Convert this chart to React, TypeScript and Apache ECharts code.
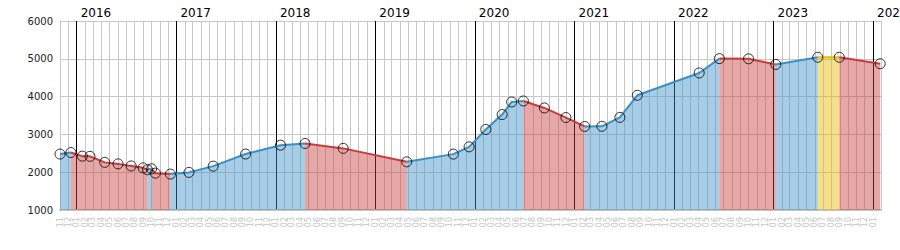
import React, { useEffect, useRef } from "react";
import * as echarts from "echarts";

const pointDates: string[] = [
  "2015-11-01", "2015-12-11", "2016-01-22", "2016-02-19", "2016-04-13",
  "2016-06-01", "2016-07-19", "2016-09-01", "2016-09-17", "2016-10-02",
  "2016-10-16", "2016-12-10", "2017-02-16", "2017-05-16", "2017-09-12",
  "2018-01-18", "2018-04-18", "2018-09-05", "2019-04-26", "2019-10-14",
  "2019-12-11", "2020-02-10", "2020-04-10", "2020-05-15", "2020-06-27",
  "2020-09-12", "2020-11-30", "2021-02-07", "2021-04-11", "2021-06-16",
  "2021-08-19", "2022-04-03", "2022-06-16", "2022-10-01", "2023-01-09",
  "2023-06-12", "2023-08-30", "2024-01-27",
];
const pointValues: number[] = [
  2480, 2520, 2425, 2420, 2260,
  2220, 2165, 2115, 2065, 2090,
  1975, 1950, 1995, 2160, 2480,
  2715, 2760, 2630, 2275, 2478,
  2670, 3130, 3525, 3858, 3884,
  3700, 3446, 3210, 3215, 3450,
  4035, 4625, 5005, 5000, 4850,
  5040, 5040, 4870,
];

const axisStart = "2015-11-01";
const axisEnd = "2024-01-30";
const yMin = 1000;
const yMax = 6000;
const yStep = 1000;
const yearLabels: string[] = ["2016", "2017", "2018", "2019", "2020", "2021", "2022", "2023", "2024"];

const COLORS = { up: "#3b8fc6", down: "#c83c3c", flat: "#e6b800" };

function ts(s: string): number {
  const [y, m, d] = s.split("-").map(Number);
  return new Date(y, m - 1, d).getTime();
}

function monthTicks(): number[] {
  const out: number[] = [];
  const s = new Date(ts(axisStart));
  const end = ts(axisEnd);
  let y = s.getFullYear();
  let m = s.getMonth();
  while (true) {
    const t = new Date(y, m, 1).getTime();
    if (t > end) break;
    out.push(t);
    m++;
    if (m > 11) { m = 0; y++; }
  }
  return out;
}

function buildRuns() {
  const runs: { dir: "up" | "down" | "flat"; data: [number, number][] }[] = [];
  for (let i = 0; i < pointValues.length - 1; i++) {
    const diff = pointValues[i + 1] - pointValues[i];
    const dir = diff > 0 ? "up" : diff < 0 ? "down" : "flat";
    const a: [number, number] = [ts(pointDates[i]), pointValues[i]];
    const b: [number, number] = [ts(pointDates[i + 1]), pointValues[i + 1]];
    const last = runs[runs.length - 1];
    if (last && last.dir === dir) {
      last.data.push(b);
    } else {
      runs.push({ dir, data: [a, b] });
    }
  }
  return runs;
}

export default function App() {
  const ref = useRef<HTMLDivElement>(null);
  useEffect(() => {
    if (!ref.current) return;
    const chart = echarts.init(ref.current, undefined, { renderer: "svg" });
    const months = monthTicks();
    const years = yearLabels.map((y) => ts(y + "-01-01"));
    const runs = buildRuns();
    const font = "DejaVu Sans, Verdana, sans-serif";

    const series: any[] = runs.map((r) => ({
      type: "line",
      xAxisIndex: 0,
      yAxisIndex: 0,
      data: r.data,
      showSymbol: false,
      symbol: "none",
      z: 3,
      lineStyle: { color: COLORS[r.dir], width: 2 },
      itemStyle: { color: COLORS[r.dir] },
      areaStyle: { color: COLORS[r.dir], opacity: 0.45, origin: "start" },
      silent: true,
    }));
    series.push({
      type: "scatter",
      xAxisIndex: 0,
      yAxisIndex: 0,
      z: 5,
      symbol: "circle",
      symbolSize: 10,
      data: pointDates.map((d, i) => [ts(d), pointValues[i]]),
      itemStyle: { color: "rgba(255,255,255,0)", borderColor: "#000", borderWidth: 1 },
      silent: true,
    });

    chart.setOption({
      animation: false,
      grid: { left: 60, right: 19, top: 21, bottom: 40, outerBoundsMode: "none" },
      xAxis: [
        {
          type: "value",
          min: ts(axisStart),
          max: ts(axisEnd),
          position: "bottom",
          axisLine: { show: true, onZero: false, lineStyle: { color: "#c4c4c4", width: 2 } },
          axisTick: { show: false, customValues: months },
          axisLabel: {
            customValues: months,
            rotate: 90,
            fontSize: 8,
            fontWeight: "normal",
            fontFamily: font,
            color: "#c4c4c4",
            margin: 7,
            formatter: (v: number) => {
              const m = new Date(v).getMonth() + 1;
              return (m < 10 ? "0" : "") + m;
            },
          },
          splitLine: { show: true, lineStyle: { color: "#c8c8c8", width: 1 } },
        },
        {
          type: "value",
          min: ts(axisStart),
          max: ts(axisEnd),
          position: "top",
          axisLine: { show: false },
          axisTick: { show: false, customValues: years },
          axisLabel: {
            customValues: years,
            align: "left",
            padding: [0, 0, 0, 4],
            margin: 2,
            fontSize: 12,
            fontWeight: "normal",
            fontFamily: font,
            color: "#000",
            formatter: (v: number) => String(new Date(v).getFullYear()),
          },
          splitLine: { show: true, lineStyle: { color: "#000", width: 1 } },
        },
      ],
      yAxis: [
        {
          type: "value",
          min: yMin,
          max: yMax,
          interval: yStep,
          axisLine: { show: true, lineStyle: { color: "#c8c8c8" } },
          axisTick: { show: false },
          axisLabel: {
            fontSize: 10,
            fontWeight: "normal",
            fontFamily: font,
            color: "#222",
            margin: 7,
            formatter: (v: number) => String(v),
          },
          splitLine: { show: true, lineStyle: { color: "#c8c8c8" } },
        },
        {
          type: "value",
          min: yMin,
          max: yMax,
          interval: yStep,
          position: "right",
          axisLine: { show: true, lineStyle: { color: "#c8c8c8" } },
          axisTick: { show: false },
          axisLabel: { show: false },
          splitLine: { show: false },
        },
      ],
      series,
    });
    return () => chart.dispose();
  }, []);
  return (
    <div
      ref={ref}
      style={{ position: "fixed", left: 0, top: 0, width: 900, height: 250, background: "#fff" }}
    />
  );
}
